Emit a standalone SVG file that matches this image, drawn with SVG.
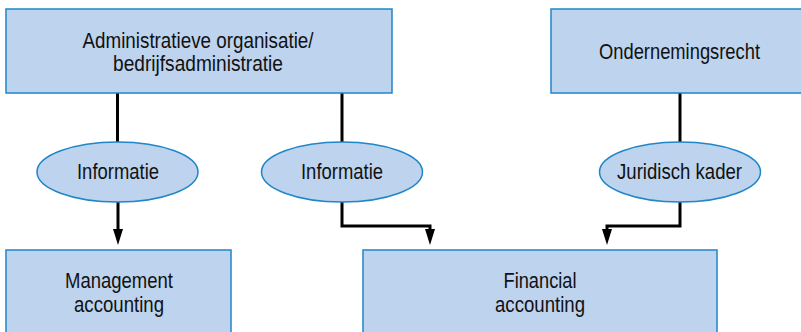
<svg xmlns="http://www.w3.org/2000/svg" width="801" height="332" viewBox="0 0 801 332">
<defs>
<style>
.box{fill:#bdd3ee;stroke:#1f86c8;stroke-width:1.5}
.ell{fill:#bdd3ee;stroke:#1f86c8;stroke-width:1.5}
.t{font-family:"Liberation Sans",Arial,sans-serif;font-size:22px;fill:#111;text-anchor:middle}
.c{fill:none;stroke:#000;stroke-width:3}
</style>
</defs>
<g id="connectors">
<line class="c" x1="117.5" y1="93" x2="117.5" y2="142"/>
<line class="c" x1="342" y1="93" x2="342" y2="142"/>
<line class="c" x1="680" y1="93" x2="680" y2="142"/>
<path class="c" d="M118,202 L118,230"/>
<path d="M113,229 L123,229 L118,245 Z" fill="#000"/>
<path class="c" d="M342,202 L342,226 L430,226 L430,230"/>
<path d="M425,229 L435,229 L430,245 Z" fill="#000"/>
<path class="c" d="M680,202 L680,226 L607,226 L607,230"/>
<path d="M602,229 L612,229 L607,245 Z" fill="#000"/>
</g>
<g id="node-admin">
<rect class="box" x="6" y="9" width="386" height="84"/>
<text class="t" x="198" y="47.5" textLength="231" lengthAdjust="spacingAndGlyphs">Administratieve organisatie/</text>
<text class="t" x="198" y="70.5" textLength="170" lengthAdjust="spacingAndGlyphs">bedrijfsadministratie</text>
</g>
<g id="node-recht">
<rect class="box" x="551" y="9" width="252" height="84"/>
<text class="t" x="679.5" y="58.5" textLength="161" lengthAdjust="spacingAndGlyphs">Ondernemingsrecht</text>
</g>
<g id="node-info1">
<ellipse class="ell" cx="117.5" cy="172" rx="80.5" ry="30"/>
<text class="t" x="118" y="179" textLength="82" lengthAdjust="spacingAndGlyphs">Informatie</text>
</g>
<g id="node-info2">
<ellipse class="ell" cx="342" cy="172" rx="80.5" ry="30"/>
<text class="t" x="342" y="179" textLength="82" lengthAdjust="spacingAndGlyphs">Informatie</text>
</g>
<g id="node-juridisch">
<ellipse class="ell" cx="680" cy="172" rx="80.5" ry="30"/>
<text class="t" x="679.5" y="179" textLength="125" lengthAdjust="spacingAndGlyphs">Juridisch kader</text>
</g>
<g id="node-management">
<rect class="box" x="6" y="250" width="225" height="90"/>
<text class="t" x="119" y="288" textLength="108" lengthAdjust="spacingAndGlyphs">Management</text>
<text class="t" x="119" y="311.5" textLength="90" lengthAdjust="spacingAndGlyphs">accounting</text>
</g>
<g id="node-financial">
<rect class="box" x="363" y="250" width="354" height="90"/>
<text class="t" x="540" y="288" textLength="73" lengthAdjust="spacingAndGlyphs">Financial</text>
<text class="t" x="540" y="311.5" textLength="90" lengthAdjust="spacingAndGlyphs">accounting</text>
</g>
</svg>
